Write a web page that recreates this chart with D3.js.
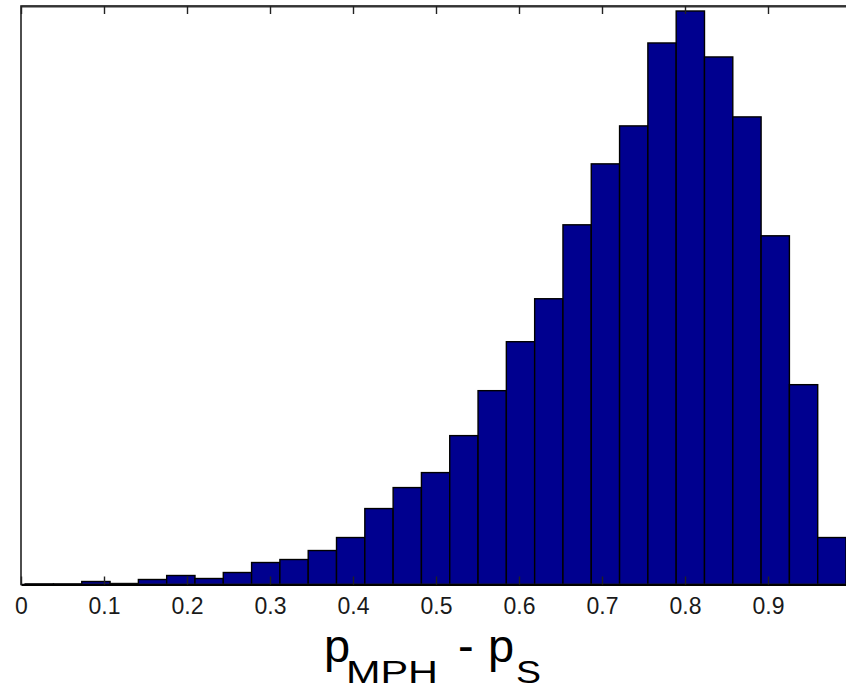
<!DOCTYPE html>
<html>
<head>
<meta charset="utf-8">
<script src="https://cdn.jsdelivr.net/npm/d3@7"></script>
<style>
  html, body { margin: 0; padding: 0; background: #fff; }
  svg { display: block; }
</style>
</head>
<body>
<svg id="chart" width="846" height="691"></svg>
<script>
// ---- data ----
const binMin = 0.005;   // left edge of first bin
const binMax = 0.994;   // right edge of last bin
const counts = [0.6, 0.6, 3, 1, 5, 9, 6, 12, 22, 25, 34, 47, 76, 97, 112, 149, 194, 243,
                286, 360, 421, 459, 542, 574, 528, 468, 349, 200, 47];
const xTicks = [0, 0.1, 0.2, 0.3, 0.4, 0.5, 0.6, 0.7, 0.8, 0.9];
const xTickLabels = ["0", "0.1", "0.2", "0.3", "0.4", "0.5", "0.6", "0.7", "0.8", "0.9"];
const yMax = 579;

// ---- layout ----
const svg = d3.select("#chart");
const mLeft = 21, mRight = 851, mTop = 6, mBottom = 584.5;

const x = d3.scaleLinear().domain([0, 1]).range([mLeft, mRight]);
const y = d3.scaleLinear().domain([0, yMax]).range([mBottom, mTop]);

const nb = counts.length;
const edge = d3.scaleLinear().domain([0, nb]).range([binMin, binMax]);
const bins = counts.map((c, i) => ({ x0: edge(i), x1: edge(i + 1), c }));

// bars
svg.append("g").selectAll("rect").data(bins).join("rect")
  .attr("x", d => x(d.x0))
  .attr("y", d => y(d.c))
  .attr("width", d => x(d.x1) - x(d.x0))
  .attr("height", d => mBottom - y(d.c))
  .attr("fill", "#00008f")
  .attr("stroke", "#000")
  .attr("stroke-width", 1.4);

// box
svg.append("rect")
  .attr("x", mLeft).attr("y", mTop)
  .attr("width", mRight - mLeft).attr("height", mBottom - mTop)
  .attr("fill", "none").attr("stroke", "#222").attr("stroke-width", 1.6);

// bottom axis (ticks inward)
const ax = d3.axisBottom(x).tickValues(xTicks)
  .tickFormat((d, i) => xTickLabels[i]).tickSizeInner(-8).tickSizeOuter(0).tickPadding(13);
const gx = svg.append("g").attr("transform", `translate(0,${mBottom})`).call(ax);
gx.select(".domain").attr("stroke", "#000").attr("stroke-width", 2);
gx.selectAll(".tick line").attr("stroke", "#222").attr("stroke-width", 1.4);
gx.selectAll(".tick text")
  .attr("font-family", "'Liberation Sans', Arial, sans-serif")
  .attr("font-size", 23).attr("fill", "#1a1a1a");

// top axis (mirrored ticks, no labels)
const axTop = d3.axisTop(x).tickValues(xTicks).tickFormat("").tickSizeInner(-8).tickSizeOuter(0);
const gt = svg.append("g").attr("transform", `translate(0,${mTop})`).call(axTop);
gt.select(".domain").attr("stroke", "#333").attr("stroke-width", 1.8);
gt.selectAll(".tick line").attr("stroke", "#222").attr("stroke-width", 1.4);

// x label: p_MPH - p_S
const cx = (mLeft + mRight) / 2;
const baseY = 662, subY = 683;
const lbl = svg.append("text")
  .attr("font-family", "'Liberation Sans', Arial, sans-serif")
  .attr("fill", "#000");
lbl.append("tspan").attr("x", cx - 112).attr("y", baseY).attr("font-size", 47).text("p");
lbl.append("tspan").attr("x", cx - 90).attr("y", subY).attr("font-size", 31)
  .attr("textLength", 92).attr("lengthAdjust", "spacingAndGlyphs").text("MPH");
lbl.append("tspan").attr("x", cx + 22).attr("y", baseY).attr("font-size", 47).text("-");
lbl.append("tspan").attr("x", cx + 52).attr("y", baseY).attr("font-size", 47).text("p");
lbl.append("tspan").attr("x", cx + 80).attr("y", subY).attr("font-size", 31)
  .attr("textLength", 25).attr("lengthAdjust", "spacingAndGlyphs").text("S");
</script>
</body>
</html>
